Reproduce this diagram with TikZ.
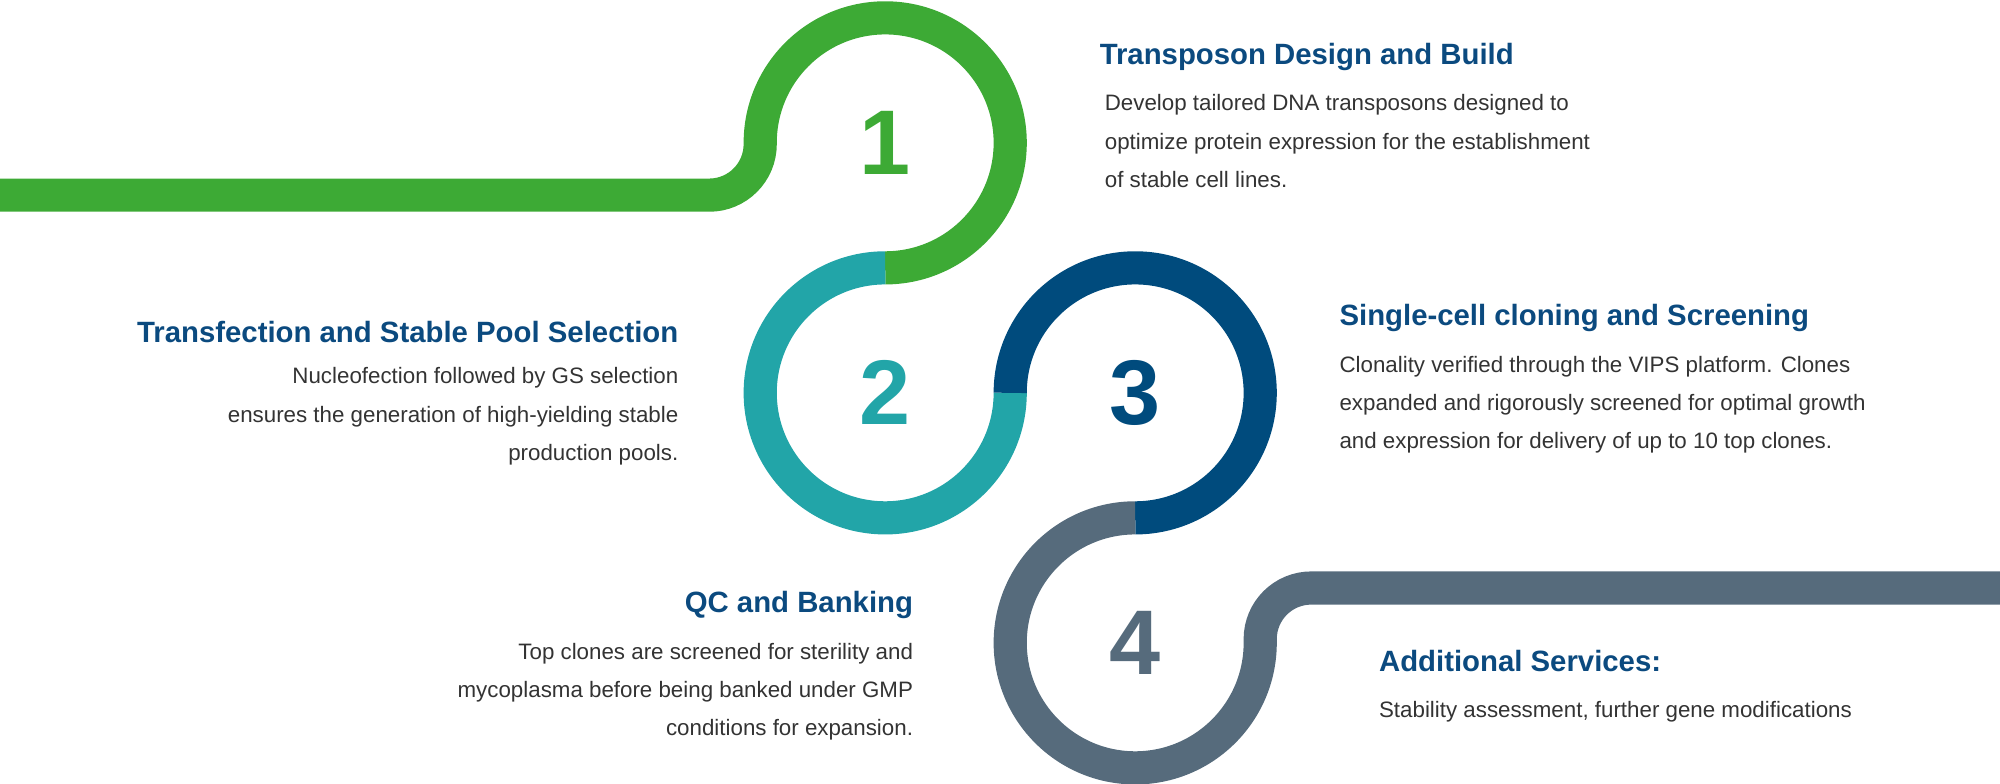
\documentclass[tikz,border=0pt]{standalone}
\usepackage{fontspec}
\setmainfont{Liberation Sans}
\definecolor{cgreen}{HTML}{3DAA35}
\definecolor{cteal}{HTML}{22A5A8}
\definecolor{cblue}{HTML}{004B7D}
\definecolor{cgray}{HTML}{566B7C}
\definecolor{ctitle}{HTML}{0B4A7F}
\definecolor{cbody}{HTML}{333333}
\begin{document}
\begin{tikzpicture}[x=1pt,y=1pt,
  band/.style={line width=26pt},
  digit/.style={font=\fontsize{72}{72}\selectfont\bfseries},
  ttl/.style={text=ctitle,font=\fontsize{23}{26}\selectfont\bfseries,inner sep=0},
  body/.style={text=cbody,font=\fontsize{17.5}{30}\selectfont,inner sep=0}]
\useasboundingbox (0,0) rectangle (1568,614);
\draw[band,cgreen] (0,461) -- (556,461) arc(-90:0:40) -- (596,502) arc(180:-90:98);
\draw[band,cteal] (694,404) arc(90:360:98);
\draw[band,cblue] (792,306) arc(180:-90:98);
\draw[band,cgray] (890,208) arc(90:360:98) -- (988,113) arc(180:90:40) -- (1568,153);
\node[digit,text=cgreen] (d1) at (694,502) {1};
\node[digit,text=cteal] (d2) at (694,306) {2};
\node[digit,text=cblue] (d3) at (890,306) {3};
\node[digit,text=cgray] (d4) at (890,110) {4};
\node[ttl,anchor=west] (t1) at (862,569) {Transposon Design and Build};
\node[body,anchor=north west,align=left] (b1) at (866,540) {Develop tailored DNA transposons designed to\\optimize protein expression for the establishment\\of stable cell lines.};
\node[ttl,anchor=east] (t2) at (532,354) {Transfection and Stable Pool Selection};
\node[body,anchor=north east,align=right] (b2) at (532,326) {Nucleofection followed by GS selection\\ensures the generation of high-yielding stable\\production pools.};
\node[ttl,anchor=west] (t3) at (1050,365) {Single-cell cloning and Screening};
\node[body,anchor=north west,align=left] (b3) at (1050,335) {Clonality verified through the VIPS platform. Clones\\expanded and rigorously screened for optimal growth\\and expression for delivery of up to 10 top clones.};
\node[ttl,anchor=east] (t4) at (716,140) {QC and Banking};
\node[body,anchor=north east,align=right] (b4) at (716,110) {Top clones are screened for sterility and\\mycoplasma before being banked under GMP\\conditions for expansion.};
\node[ttl,anchor=west] (t5) at (1081,96) {Additional Services:};
\node[body,anchor=west] (b5) at (1081,56) {Stability assessment, further gene modifications};
\end{tikzpicture}
\end{document}
